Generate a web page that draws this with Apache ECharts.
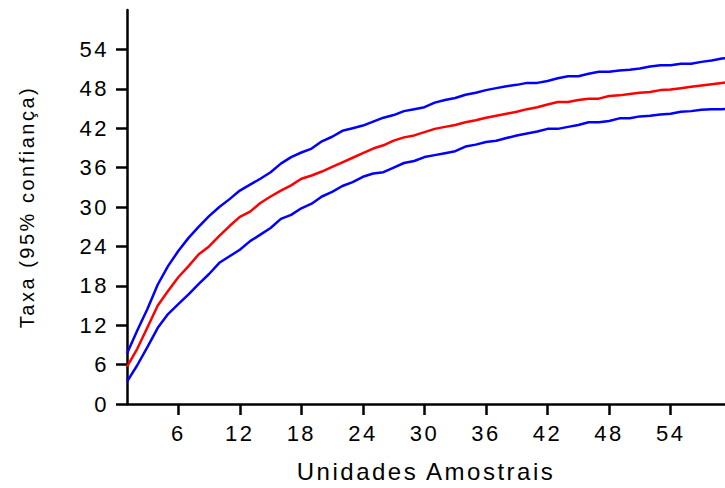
<!DOCTYPE html>
<html>
<head>
<meta charset="utf-8">
<title>Curva de acumulação</title>
<script src="https://cdn.jsdelivr.net/npm/echarts@6/dist/echarts.min.js"></script>
<style>
    html, body { margin: 0; padding: 0; background: #fff; }
    #main { width: 725px; height: 488px; }
    /* o original tem o texto bem espaçado */
    #main text { letter-spacing: 2.5px; }
</style>
</head>
<body>
<div id="main"></div>
<script>
// unidades amostrais (eixo x)
const unidades = [];
for (let i = 1; i <= 60; i++) unidades.push(i);

// limite superior (95%)
const superior = [
    7.7, 11.2, 14.5, 18.2, 21.0, 23.3, 25.3, 27.0, 28.6, 30.0,
    31.2, 32.5, 33.4, 34.3, 35.3, 36.6, 37.6, 38.3, 38.9, 40.0,
    40.7, 41.6, 42.0, 42.4, 43.0, 43.6, 44.0, 44.6, 44.9, 45.2,
    45.9, 46.3, 46.6, 47.1, 47.4, 47.8, 48.1, 48.4, 48.6, 48.9,
    48.9, 49.2, 49.6, 49.9, 49.9, 50.3, 50.6, 50.6, 50.8, 50.9,
    51.1, 51.4, 51.6, 51.6, 51.8, 51.8, 52.1, 52.3, 52.6, 52.8
];
// média
const media = [
    5.7, 8.4, 11.7, 15.0, 17.2, 19.3, 21.0, 22.8, 24.0, 25.6,
    27.1, 28.5, 29.3, 30.6, 31.6, 32.5, 33.3, 34.3, 34.8, 35.4,
    36.1, 36.8, 37.5, 38.2, 38.9, 39.4, 40.1, 40.6, 40.9, 41.4,
    41.9, 42.2, 42.5, 42.9, 43.2, 43.6, 43.9, 44.2, 44.5, 44.9,
    45.2, 45.6, 46.0, 46.0, 46.3, 46.5, 46.5, 46.9, 47.0, 47.2,
    47.4, 47.5, 47.8, 47.9, 48.1, 48.3, 48.5, 48.7, 48.9, 49.1
];
// limite inferior (95%)
const inferior = [
    3.4, 5.9, 8.7, 11.6, 13.7, 15.2, 16.7, 18.3, 19.8, 21.5,
    22.5, 23.5, 24.8, 25.8, 26.8, 28.2, 28.8, 29.8, 30.5, 31.6,
    32.3, 33.2, 33.8, 34.6, 35.1, 35.3, 36.0, 36.7, 37.0, 37.6,
    37.9, 38.2, 38.5, 39.2, 39.5, 39.9, 40.1, 40.5, 40.9, 41.2,
    41.5, 41.9, 41.9, 42.2, 42.5, 42.9, 42.9, 43.1, 43.5, 43.5,
    43.8, 43.9, 44.1, 44.2, 44.5, 44.6, 44.8, 44.9, 44.9, 45.0
];

const xTicks = [6, 12, 18, 24, 30, 36, 42, 48, 54];
const yTicks = [0, 6, 12, 18, 24, 30, 36, 42, 48, 54];

const fonte = 'Liberation Sans, Arial, sans-serif';

const pares = arr => arr.map((v, i) => [unidades[i], v]);

const serie = (name, data, color) => {
    return {
        name: name,
        type: 'line',
        data: pares(data),
        showSymbol: false,
        clip: true,
        lineStyle: { color: color, width: 2.5 },
        itemStyle: { color: color }
    };
};

const eixo = {
    axisLine: { lineStyle: { color: '#000', width: 2.5 } },
    axisTick: { length: 11, lineStyle: { color: '#000', width: 2.5 } },
    splitLine: { show: false }
};

const chart = echarts.init(document.getElementById('main'), null, { renderer: 'svg' });

chart.setOption({
    animation: false,
    backgroundColor: '#fff',
    grid: { left: 127, right: 0, top: 10, bottom: 82, containLabel: false },
    xAxis: {
        type: 'value',
        min: 1,
        max: 59.3,
        name: 'Unidades Amostrais',
        nameLocation: 'middle',
        nameGap: 55,
        nameTextStyle: { color: '#000', fontSize: 24, fontFamily: fonte },
        axisLine: eixo.axisLine,
        axisTick: Object.assign({ customValues: xTicks }, eixo.axisTick),
        axisLabel: { customValues: xTicks, color: '#000', fontSize: 22, fontFamily: fonte, margin: 18 },
        splitLine: eixo.splitLine
    },
    yAxis: {
        type: 'value',
        min: 0,
        max: 60,
        name: 'Taxa (95% confiança)',
        nameLocation: 'middle',
        nameGap: 90,
        nameTextStyle: { color: '#000', fontSize: 20, fontFamily: fonte },
        axisLine: eixo.axisLine,
        axisTick: Object.assign({ customValues: yTicks }, eixo.axisTick),
        axisLabel: { customValues: yTicks, color: '#000', fontSize: 22, fontFamily: fonte, margin: 18 },
        splitLine: eixo.splitLine
    },
    series: [
        serie('Superior', superior, '#0000ff'),
        serie('Média', media, '#ff0000'),
        serie('Inferior', inferior, '#0000ff')
    ]
});
</script>
</body>
</html>
